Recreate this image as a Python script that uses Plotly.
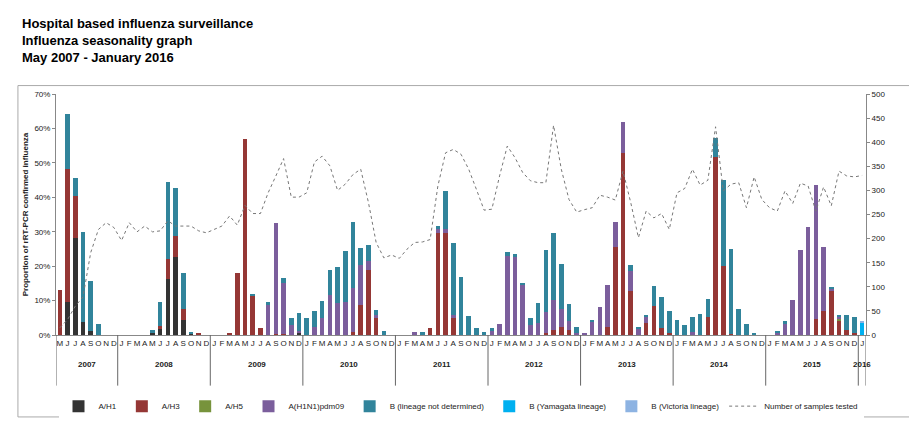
import plotly.graph_objects as go

# Monthly data, May 2007 - January 2016 (% of samples positive)
years = ["2007", "2008", "2009", "2010", "2011", "2012", "2013", "2014", "2015", "2016"]
month_letters = ["J", "F", "M", "A", "M", "J", "J", "A", "S", "O", "N", "D"]
months = month_letters[4:] + month_letters * 8 + ["J"]

h1 = ([0, 9.6, 28.3, 3.8, 1.2, 0, 0, 0]
      + [0, 0, 0, 0, 0.5, 1.8, 16.2, 22.7, 4.4, 0.4, 0, 0]
      + [0] * 11 + [0.8]
      + [0] * 72 + [0])
h3 = ([13.0, 38.5, 12.1, 0, 0, 0, 0, 0]
      + [0, 0, 0, 0, 0, 0.9, 5.8, 6.1, 3.1, 0, 0.5, 0]
      + [0, 0, 0.4, 18.1, 56.8, 11.3, 2.0, 0, 0.4, 0.4, 0, 0]
      + [0, 0, 0, 0, 0, 0, 0.9, 8.8, 18.8, 4.8, 0, 0]
      + [0, 0, 0, 0, 1.9, 29.7, 29.7, 4.8, 0, 0, 0, 0]
      + [0, 0, 0, 0, 0, 0, 0, 0.6, 1.5, 2.3, 1.5, 0]
      + [0, 0, 0, 2.3, 25.7, 52.8, 12.8, 0, 3.4, 8.4, 1.9, 0.6]
      + [0, 0, 0, 0, 5.2, 51.8, 19.9, 0.3, 0, 0, 0, 0]
      + [0, 0, 0, 0, 0, 0, 4.7, 7.0, 12.8, 4.1, 1.4, 0.7]
      + [0])
h5 = [0] * 8 + [0] * 84 + [0, 0, 0, 0, 0, 0, 0, 0, 0, 0.5, 0, 0] + [0]
pdm09 = ([0] * 8 + [0] * 12
         + [0] * 7 + [8.8, 32.0, 14.6, 2.9, 0.4]
         + [0, 2.2, 4.8, 11.7, 9.2, 9.6, 12.8, 11.5, 2.6, 0.9, 0, 0]
         + [0, 0, 0.9, 0, 0, 1.0, 1.0, 0.9, 0, 0, 0, 0]
         + [1.2, 3.2, 23.0, 22.9, 14.4, 3.0, 3.6, 6.2, 8.6, 5.2, 2.5, 0.7]
         + [0.7, 4.0, 8.2, 12.2, 7.1, 9.1, 5.8, 1.6, 1.8, 0, 0, 0]
         + [0, 0, 0.9, 0, 0, 0, 0, 0, 0, 0, 0, 0]
         + [0, 0.6, 3.2, 10.3, 24.6, 31.5, 38.8, 18.7, 0.7, 0.7, 0, 0]
         + [0])
b_nd = ([0, 16.0, 5.1, 26.1, 14.6, 3.2, 0, 0]
        + [0, 0, 0, 0, 1.0, 6.9, 22.5, 13.8, 10.5, 0.2, 0, 0]
        + [0, 0, 0, 0, 0, 0.6, 0, 0.8, 0, 1.7, 2.0, 5.1]
        + [4.9, 4.7, 5.0, 7.2, 10.6, 14.9, 19.0, 5.0, 4.8, 1.7, 1.2, 0]
        + [0, 0, 0, 0.9, 0, 1.1, 11.0, 21.1, 16.9, 5.5, 1.9, 1.0]
        + [0.7, 0, 1.0, 0.5, 0.7, 1.9, 5.7, 17.8, 19.6, 13.2, 5.0, 1.7]
        + [0, 0.3, 0, 0, 0, 0, 1.7, 0.8, 0.6, 5.7, 9.2, 6.5]
        + [4.4, 2.9, 4.2, 6.1, 5.4, 5.3, 25.1, 24.6, 7.5, 3.3, 0.3, 0]
        + [0, 0.3, 0.8, 0, 0, 0, 0, 0, 0.5, 0.6, 4.3, 4.5]
        + [0])
b_yam = [0] * 104 + [3.5]
b_vic = [0] * 104 + [0.6]
samples = ([15, 32, 60, 79, 171, 219, 233, 223]
           + [196, 233, 214, 226, 214, 216, 237, 226, 226, 226, 216, 212]
           + [219, 226, 247, 228, 269, 252, 252, 295, 330, 366, 286, 286]
           + [295, 359, 371, 351, 300, 313, 333, 344, 275, 192, 160, 166]
           + [159, 178, 192, 193, 198, 309, 378, 385, 375, 344, 302, 259]
           + [261, 330, 392, 368, 337, 320, 316, 316, 435, 344, 281, 255]
           + [260, 264, 290, 286, 280, 340, 275, 202, 257, 243, 252, 219]
           + [295, 304, 344, 311, 321, 432, 299, 313, 316, 264, 328, 281]
           + [264, 257, 299, 273, 315, 309, 257, 307, 268, 340, 330, 328]
           + [331])

x = list(range(len(months)))
year_counts = [8, 12, 12, 12, 12, 12, 12, 12, 12, 1]

series = [
    ("A/H1", h1, "#333333"),
    ("A/H3", h3, "#953735"),
    ("A/H5", h5, "#77933c"),
    ("A(H1N1)pdm09", pdm09, "#7b5e9c"),
    ("B (lineage not determined)", b_nd, "#31849b"),
    ("B (Yamagata lineage)", b_yam, "#00b0f0"),
    ("B (Victoria lineage)", b_vic, "#8db3e2"),
]

fig = go.Figure()
for name, vals, col in series:
    fig.add_trace(go.Bar(x=x, y=vals, name=name, marker=dict(color=col, line=dict(width=0)),
                         width=0.6))
fig.add_trace(go.Scatter(x=x, y=samples, name="Number of samples tested", mode="lines",
                         line=dict(color="#777777", width=1, dash="dot"), yaxis="y2"))

# year dividers and labels below the axis
shapes = []
annotations = []
start = -0.5
for yr, n in zip(years, year_counts):
    shapes.append(dict(type="line", xref="x", yref="paper", x0=start, x1=start, y0=0, y1=-0.21,
                       line=dict(color="#666666", width=1)))
    annotations.append(dict(x=start + n / 2, y=-0.15, xref="x", yref="paper", text="<b>" + yr + "</b>",
                            showarrow=False, font=dict(size=8, color="#222222")))
    start += n
shapes.append(dict(type="line", xref="x", yref="paper", x0=start, x1=start, y0=0, y1=-0.21,
                   line=dict(color="#666666", width=1)))
shapes.append(dict(type="rect", xref="paper", yref="paper", x0=-0.047, x1=1.07, y0=-0.34, y1=1.035,
                   line=dict(color="#aaaaaa", width=1)))

annotations.append(dict(
    text="<b>Hospital based influenza surveillance<br>Influenza seasonality graph<br>May 2007 - January 2016</b>",
    xref="paper", yref="paper", x=-0.045, y=1.33, xanchor="left", yanchor="top", align="left",
    showarrow=False, font=dict(size=13, color="black")))

fig.update_layout(
    width=917, height=439,
    margin=dict(l=48, r=59, t=86, b=112),
    paper_bgcolor="white", plot_bgcolor="white",
    barmode="stack", bargap=0.4,
    font=dict(family="Liberation Sans, Arial, sans-serif", size=8, color="#222222"),
    xaxis=dict(tickmode="array", tickvals=x, ticktext=months, range=[-0.5, len(x) - 0.5],
               showline=True, linecolor="#888888", ticks="", showgrid=False, tickangle=0,
               tickfont=dict(size=8)),
    yaxis=dict(range=[0, 70], dtick=10, ticksuffix="%", showline=True, linecolor="#888888",
               ticks="outside", ticklen=3, tickcolor="#888888", showgrid=False, zeroline=False,
               title=dict(text="<b>Proportion of rRT-PCR confirmed influenza</b>", font=dict(size=8), standoff=4),
               tickfont=dict(size=8)),
    yaxis2=dict(range=[0, 500], dtick=50, overlaying="y", side="right", showline=True,
                linecolor="#888888", ticks="outside", ticklen=3, tickcolor="#888888",
                showgrid=False, zeroline=False, tickfont=dict(size=8)),
    legend=dict(orientation="h", x=0.5, xanchor="center", y=-0.235, yanchor="top",
                font=dict(size=8), traceorder="normal"),
    shapes=shapes,
    annotations=annotations,
)

fig.write_html("out.html")
